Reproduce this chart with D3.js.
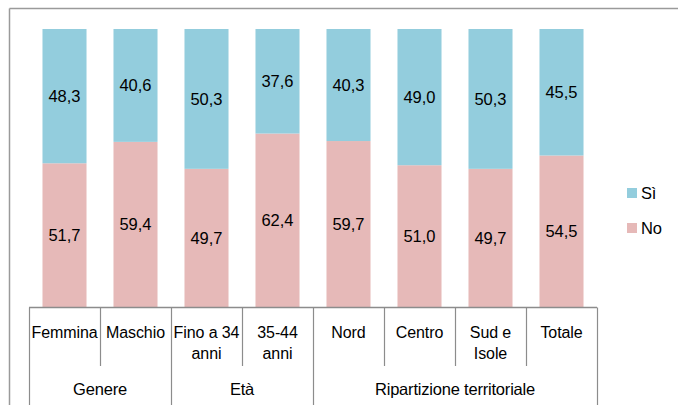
<!DOCTYPE html>
<html>
<head>
<meta charset="utf-8">
<script src="https://cdn.jsdelivr.net/npm/d3@7"></script>
<style>
  body { margin: 0; background: #fff; }
  text { font-family: "Liberation Sans", Arial, sans-serif; fill: #000; }
</style>
</head>
<body>
<div id="chart"></div>
<script>
// categories (lines of each tick label)
var categories = ['Femmina', 'Maschio', 'Fino a 34|anni', '35-44|anni', 'Nord', 'Centro', 'Sud e|Isole', 'Totale'];
var siValues = [48.3, 40.6, 50.3, 37.6, 40.3, 49.0, 50.3, 45.5];
var noValues = [51.7, 59.4, 49.7, 62.4, 59.7, 51.0, 49.7, 54.5];
var groups = [
    {label: 'Genere', from: 0, to: 1},
    {label: 'Età', from: 2, to: 3},
    {label: 'Ripartizione territoriale', from: 4, to: 7}
];
var seriesNames = ['Sì', 'No'];
var seriesColors = ['#93cddd', '#e6b9b8'];

var width = 678,
    height = 405,
    margin = {top: 29, left: 29, right: 81, bottom: 98};

var svg = d3.select('#chart')
    .append('svg')
    .attr('width', width)
    .attr('height', height);

var xScale = d3.scaleBand()
    .domain(d3.range(categories.length))
    .range([margin.left, width - margin.right])
    .padding(0);

var yScale = d3.scaleLinear()
    .domain([0, 100])
    .range([height - margin.bottom, margin.top]);

var barW = xScale.bandwidth() * 0.62;
var fmt = function (v) { return d3.format('.1f')(v).replace('.', ','); };

// outer frame (top + left only)
svg.append('line')
    .attr('x1', 9.5).attr('x2', width).attr('y1', 8.5).attr('y2', 8.5)
    .style('stroke', '#9a9a9a').style('stroke-width', 1.5);
svg.append('line')
    .attr('x1', 9.5).attr('x2', 9.5).attr('y1', 8.5).attr('y2', height)
    .style('stroke', '#9a9a9a').style('stroke-width', 1.5);

// stacked data
var rows = categories.map(function (c, i) {
    return {i: i, no: noValues[i], si: siValues[i]};
});

var bars = svg.selectAll('.cat')
    .data(rows)
    .enter().append('g')
    .attr('class', 'cat');

// No (bottom)
bars.append('rect')
    .attr('x', d => xScale(d.i) + (xScale.bandwidth() - barW) / 2)
    .attr('width', barW)
    .attr('y', d => yScale(d.no))
    .attr('height', d => yScale(0) - yScale(d.no))
    .style('fill', seriesColors[1]);

// Si (top)
bars.append('rect')
    .attr('x', d => xScale(d.i) + (xScale.bandwidth() - barW) / 2)
    .attr('width', barW)
    .attr('y', d => yScale(d.no + d.si))
    .attr('height', d => yScale(d.no) - yScale(d.no + d.si))
    .style('fill', seriesColors[0]);

// value labels
bars.append('text')
    .attr('x', d => xScale(d.i) + xScale.bandwidth() / 2)
    .attr('y', d => (yScale(d.no) + yScale(0)) / 2)
    .attr('dy', '0.35em')
    .attr('text-anchor', 'middle')
    .style('font-size', '16.5px')
    .text(d => fmt(d.no));

bars.append('text')
    .attr('x', d => xScale(d.i) + xScale.bandwidth() / 2)
    .attr('y', d => (yScale(d.no) + yScale(d.no + d.si)) / 2)
    .attr('dy', '0.35em')
    .attr('text-anchor', 'middle')
    .style('font-size', '16.5px')
    .text(d => fmt(d.si));

// category axis
var axisY = yScale(0) + 0.5;
var axisColor = '#8c8c8c';
svg.append('line')
    .attr('x1', xScale.range()[0]).attr('x2', xScale.range()[1])
    .attr('y1', axisY).attr('y2', axisY)
    .style('stroke', axisColor).style('stroke-width', 1.5);

var groupEdges = [0];
groups.forEach(g => groupEdges.push(g.to + 1));

d3.range(categories.length + 1).forEach(function (k) {
    var x = k < categories.length ? xScale(k) : xScale.range()[1];
    var long = groupEdges.indexOf(k) >= 0;
    svg.append('line')
        .attr('x1', Math.round(x) + 0.5).attr('x2', Math.round(x) + 0.5)
        .attr('y1', axisY).attr('y2', long ? height : 366)
        .style('stroke', axisColor).style('stroke-width', 1.2);
});

// tick labels
categories.forEach(function (c, i) {
    var t = svg.append('text')
        .attr('text-anchor', 'middle')
        .attr('x', xScale(i) + xScale.bandwidth() / 2)
        .attr('y', 338)
        .style('font-size', '16px')
        .style('letter-spacing', '-0.1px');
    c.split('|').forEach(function (line, j) {
        t.append('tspan')
            .attr('x', xScale(i) + xScale.bandwidth() / 2)
            .attr('dy', j === 0 ? 0 : 21)
            .text(line);
    });
});

// group labels
groups.forEach(function (g) {
    svg.append('text')
        .attr('text-anchor', 'middle')
        .attr('x', (xScale(g.from) + xScale(g.to) + xScale.bandwidth()) / 2)
        .attr('y', 395)
        .style('font-size', '16.5px')
        .style('letter-spacing', '-0.2px')
        .text(g.label);
});

// legend
var legend = svg.selectAll('.legend')
    .data(seriesNames)
    .enter().append('g')
    .attr('class', 'legend')
    .attr('transform', (d, i) => `translate(627,${188 + i * 35})`);

legend.append('rect')
    .attr('width', 10).attr('height', 10)
    .style('fill', (d, i) => seriesColors[i]);

legend.append('text')
    .attr('x', 14).attr('y', 5)
    .attr('dy', '0.35em')
    .style('font-size', '16.5px')
    .style('letter-spacing', '-0.2px')
    .text(d => d);
</script>
</body>
</html>
